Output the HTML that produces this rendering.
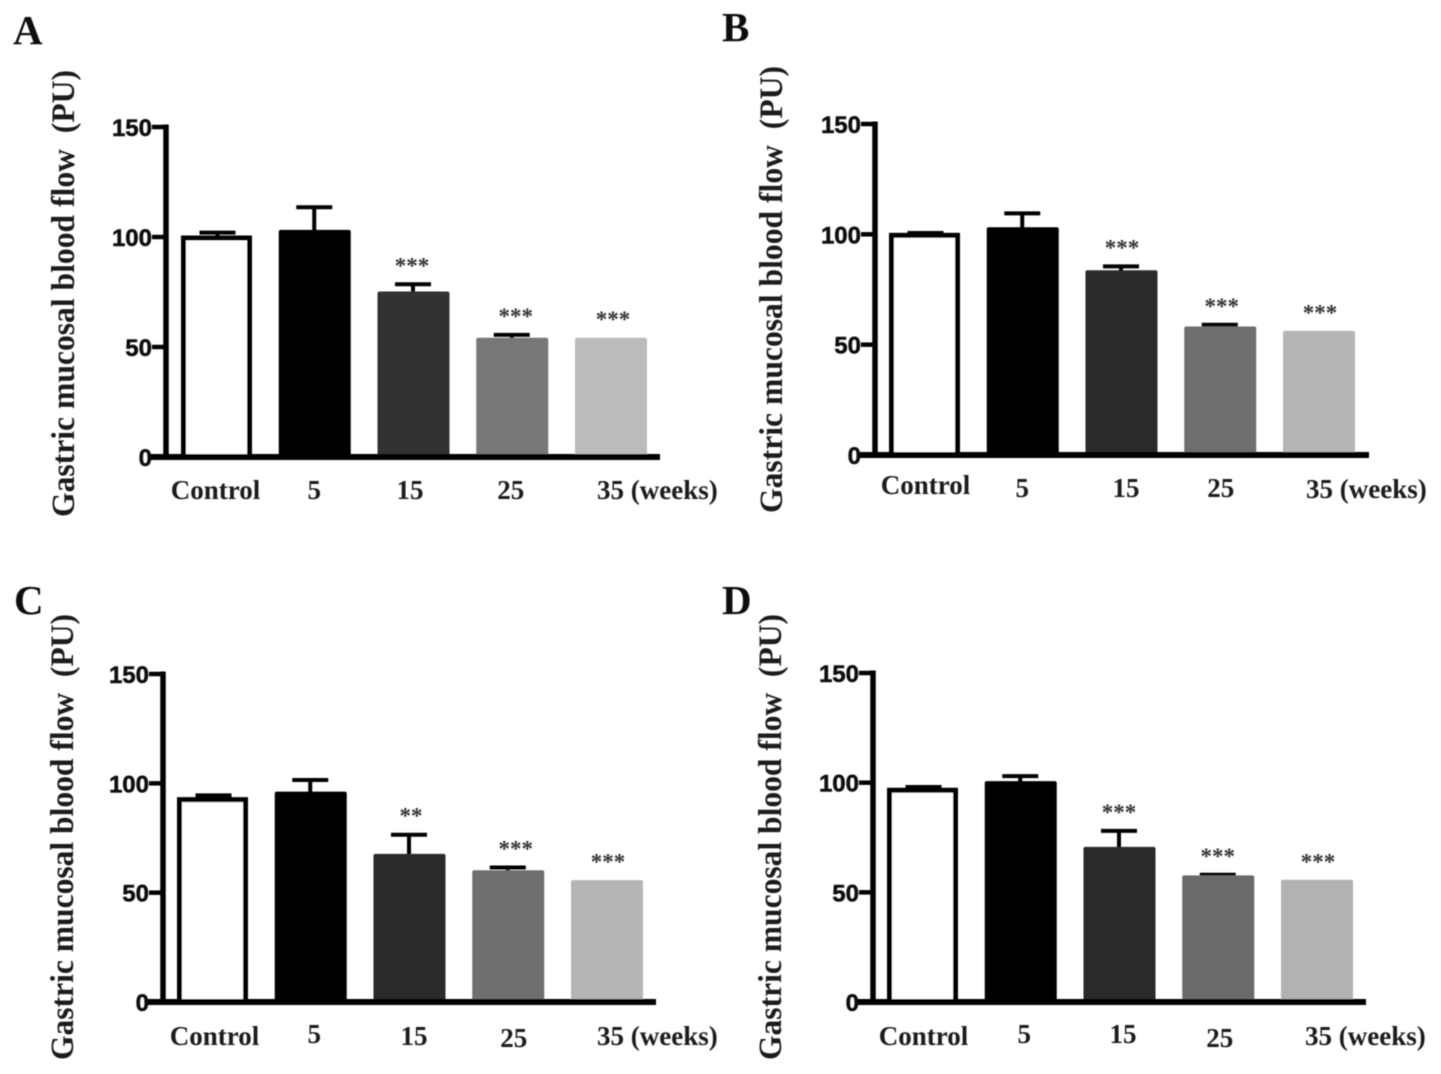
<!DOCTYPE html>
<html>
<head>
<meta charset="utf-8">
<title>Gastric mucosal blood flow</title>
<style>
html,body{margin:0;padding:0;background:#fff;}
svg{display:block;}
.panel-letter{font-family:"Liberation Serif",serif;font-weight:700;font-size:41px;fill:#111;}
.y-title{font-family:"Liberation Serif",serif;font-weight:700;font-size:33px;fill:#1a1a1a;}
.tick{font-family:"Liberation Sans",sans-serif;font-weight:700;font-size:24px;fill:#111;stroke:#111;stroke-width:0.5;text-anchor:end;}
.cat{font-family:"Liberation Serif",serif;font-weight:700;font-size:27px;fill:#1a1a1a;}
.star{font-family:"Liberation Serif",serif;font-weight:700;font-size:23px;fill:#333;text-anchor:middle;}
</style>
</head>
<body>
<svg id="figure" xmlns="http://www.w3.org/2000/svg" width="1441" height="1074" viewBox="0 0 1441 1074">
<defs><filter id="soft" x="0" y="0" width="100%" height="100%"><feGaussianBlur stdDeviation="0.65"/></filter></defs>
<rect width="1441" height="1074" fill="#fff"/>
<g id="root" filter="url(#soft)"></g>
</svg>
<script>
// Data
const categories = ['Control', '5', '15', '25', '35 (weeks)'];
const tickValues = [0, 50, 100, 150];
const yMax = 150;
const yAxisTitle = 'Gastric mucosal blood flow  (PU)';

const meansA = [100, 103, 75, 54, 54];
const errorsA = [2, 10.5, 3.5, 1.5, 0];
const starsA = ['', '', '***', '***', '***'];

const meansB = [100, 103, 83.5, 58, 56];
const errorsB = [0.6, 6.5, 2, 1, 0];
const starsB = ['', '', '***', '***', '***'];

const meansC = [93, 96, 67.5, 60, 55.5];
const errorsC = [1.5, 5.5, 9, 1.5, 0];
const starsC = ['', '', '**', '***', '***'];

const meansD = [97, 100.5, 70.5, 57.5, 55.5];
const errorsD = [1, 2.5, 7.5, 0.5, 0];
const starsD = ['', '', '***', '***', '***'];

// Layout (not data)
const panels = [
  {id:'a', letter:'A', lx:13, ly:44, means:meansA, errors:errorsA, stars:starsA, axisX:166, y0:457, yTop:127, xEnd:660, firstBar:182, titleX:74, titleStart:517, titleLen:447,
   fills:['#fff','#000','#333','#777','#bbb'], catY:[499,499,499,499,499], catDx:[-2,-2,-5,-3,-2], starDx:[0,0,-1,4,2.5]},
  {id:'b', letter:'B', lx:722, ly:41, means:meansB, errors:errorsB, stars:starsB, axisX:875, y0:455, yTop:124, xEnd:1369, firstBar:890, titleX:782, titleStart:513, titleLen:447,
   fills:['#fff','#000','#2b2b2b','#6e6e6e','#b5b5b5'], catY:[494,497,497,497,498], catDx:[0,-2,3,-1,-1], starDx:[0,0,1,2,1.5]},
  {id:'c', letter:'C', lx:14, ly:614, means:meansC, errors:errorsC, stars:starsC, axisX:163, y0:1002, yTop:674, xEnd:656, firstBar:178, titleX:73, titleStart:1060, titleLen:446,
   fills:['#fff','#000','#2a2a2a','#6e6e6e','#b5b5b5'], catY:[1045,1043,1045,1047,1045], catDx:[1,2,3,4,2], starDx:[0,0,2,8,1.5]},
  {id:'d', letter:'D', lx:722, ly:614, means:meansD, errors:errorsD, stars:starsD, axisX:873, y0:1002, yTop:673, xEnd:1366, firstBar:888, titleX:781, titleStart:1060, titleLen:446,
   fills:['#fff','#000','#2a2a2a','#6b6b6b','#b2b2b2'], catY:[1045,1043,1043,1047,1045], catDx:[0,2,2,0,0], starDx:[0,0,0,0,1.5]}
];
const barStep = 98.75, barWidth = 71, filledShift = -2;
const NS = 'http://www.w3.org/2000/svg';
const root = document.getElementById('root');

function add(parent, tag, attrs, text){
  const el = document.createElementNS(NS, tag);
  for(const k in attrs) el.setAttribute(k, attrs[k]);
  if(text !== undefined) el.textContent = text;
  parent.appendChild(el);
  return el;
}

panels.forEach(function(p){
  const yScale = function(v){ return p.y0 - (v / yMax) * (p.y0 - p.yTop); };
  const xScale = function(i){ return p.firstBar + i * barStep; };

  const g = add(root, 'g', {});
  
  

  const letter = add(g, 'text', {x:p.lx, y:p.ly, 'class':'panel-letter'}, p.letter);
  
  

  const title = add(g, 'text', {'class':'y-title', transform:'translate(' + p.titleX + ',' + p.titleStart + ') rotate(-90)', textLength:p.titleLen, lengthAdjust:'spacingAndGlyphs', 'xml:space':'preserve', style:'white-space:pre'}, yAxisTitle);
  
  

  // Bars
  p.means.forEach(function(v, i){
    const x = i === 0 ? xScale(i) : xScale(i) + filledShift;
    const top = yScale(v), cx = x + barWidth / 2;
    const errTop = yScale(v + p.errors[i]);
    if(p.errors[i] > 0){
      const stem = add(g, 'line', {x1:cx, x2:cx, y1:top, y2:errTop, stroke:'#000', 'stroke-width':4});
      
      
      const cap = add(g, 'line', {x1:cx - 18, x2:cx + 18, y1:errTop, y2:errTop, stroke:'#000', 'stroke-width':4});
      
      
    }
    let bar;
    if(i === 0){
      bar = add(g, 'rect', {x:x + 1.5, y:top + 1, width:barWidth - 5, height:p.y0 - top - 1, fill:'#fff', stroke:'#000', 'stroke-width':5});
    } else {
      bar = add(g, 'rect', {x:x, y:top - 0.5, width:barWidth + 1, height:p.y0 - top + 0.5, rx:2, fill:p.fills[i]});
    }
    
    

    if(p.stars[i]){
      const s = add(g, 'text', {x:cx + p.starDx[i], y:errTop - 11, 'class':'star'}, p.stars[i]);
      
      
    }
  });

  // Axes
  const yAxis = add(g, 'line', {x1:p.axisX, x2:p.axisX, y1:p.yTop - 2.5, y2:p.y0, stroke:'#000', 'stroke-width':5.5});
  
  
  const xAxis = add(g, 'line', {x1:p.axisX - 16, x2:p.xEnd, y1:p.y0, y2:p.y0, stroke:'#000', 'stroke-width':6});
  
  

  tickValues.forEach(function(t){
    const y = yScale(t);
    if(t > 0){
      const tick = add(g, 'line', {x1:p.axisX - 14, x2:p.axisX, y1:y, y2:y, stroke:'#000', 'stroke-width':4.5});
      
      
    }
    const label = add(g, 'text', {x:p.axisX - 14, y:y + 9, 'class':'tick'}, String(t));
    
    
  });

  // Category labels
  categories.forEach(function(c, i){
    const cx = xScale(i) + barWidth / 2 + p.catDx[i];
    let attrs;
    if(i === categories.length - 1){
      attrs = {x:xScale(i) + 22 + p.catDx[i], y:p.catY[i], 'class':'cat'};
    } else {
      attrs = {x:cx, y:p.catY[i], 'class':'cat', 'text-anchor':'middle'};
    }
    const cat = add(g, 'text', attrs, c);
    
    
  });
});
</script>
</body>
</html>
